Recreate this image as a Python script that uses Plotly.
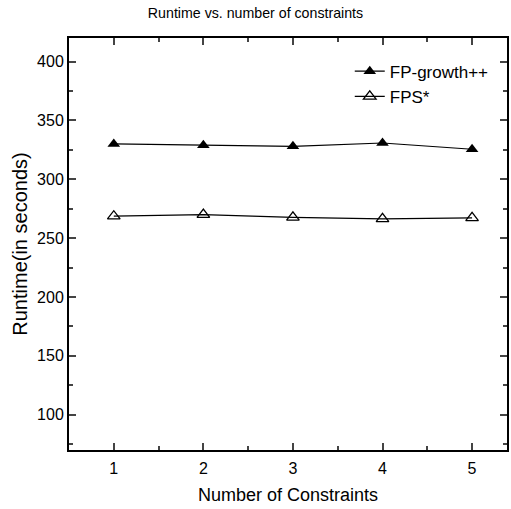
import plotly.graph_objects as go

constraints = [1, 2, 3, 4, 5]
fp_growth_pp = [330, 328.8, 328, 330.8, 325.5]
fps_star = [268.6, 270, 267.6, 266.4, 267.2]

fig = go.Figure()
fig.add_trace(go.Scatter(
    x=constraints, y=fp_growth_pp, name="FP-growth++", mode="lines+markers",
    line=dict(color="black", width=1.2),
    marker=dict(symbol="triangle-up", size=11, color="black"),
))
fig.add_trace(go.Scatter(
    x=constraints, y=fps_star, name="FPS*", mode="lines+markers",
    line=dict(color="black", width=1.2),
    marker=dict(symbol="triangle-up-open", size=11, color="black", line=dict(width=1.3)),
))

font = "Liberation Sans, Arial, sans-serif"
fig.update_layout(
    width=511, height=509,
    margin=dict(l=69, r=2, t=38, b=59),
    plot_bgcolor="white", paper_bgcolor="white",
    font=dict(family=font, color="black", size=16),
    title=dict(text="Runtime vs. number of constraints", x=0.5, xanchor="center",
               y=0.974, yanchor="middle", font=dict(size=14.2)),
    showlegend=True,
    legend=dict(x=0.641, y=0.962, xanchor="left", yanchor="top",
                bgcolor="rgba(0,0,0,0)", font=dict(size=17), tracegroupgap=0,
                itemwidth=30),
)
fig.update_xaxes(
    range=[0.5, 5.39], tickvals=constraints, ticks="inside", ticklen=7, tickwidth=2,
    showline=True, linecolor="black", linewidth=2, mirror="ticks",
    showgrid=False, zeroline=False,
    minor=dict(dtick=0.5, tick0=0.5, ticks="inside", ticklen=4, tickwidth=1.5, showgrid=False),
    title=dict(text="Number of Constraints", font=dict(size=18), standoff=12),
    tickfont=dict(size=16), ticklabelstandoff=3,
)
fig.update_yaxes(
    range=[70, 420], tickvals=[100, 150, 200, 250, 300, 350, 400], ticks="inside", ticklen=7, tickwidth=2,
    showline=True, linecolor="black", linewidth=2, mirror="ticks",
    showgrid=False, zeroline=False,
    minor=dict(dtick=25, tick0=0, ticks="inside", ticklen=4, tickwidth=1.5, showgrid=False),
    title=dict(text="Runtime(in seconds)", font=dict(size=20), standoff=4),
    tickfont=dict(size=16),
)
fig.write_html("out.html")
